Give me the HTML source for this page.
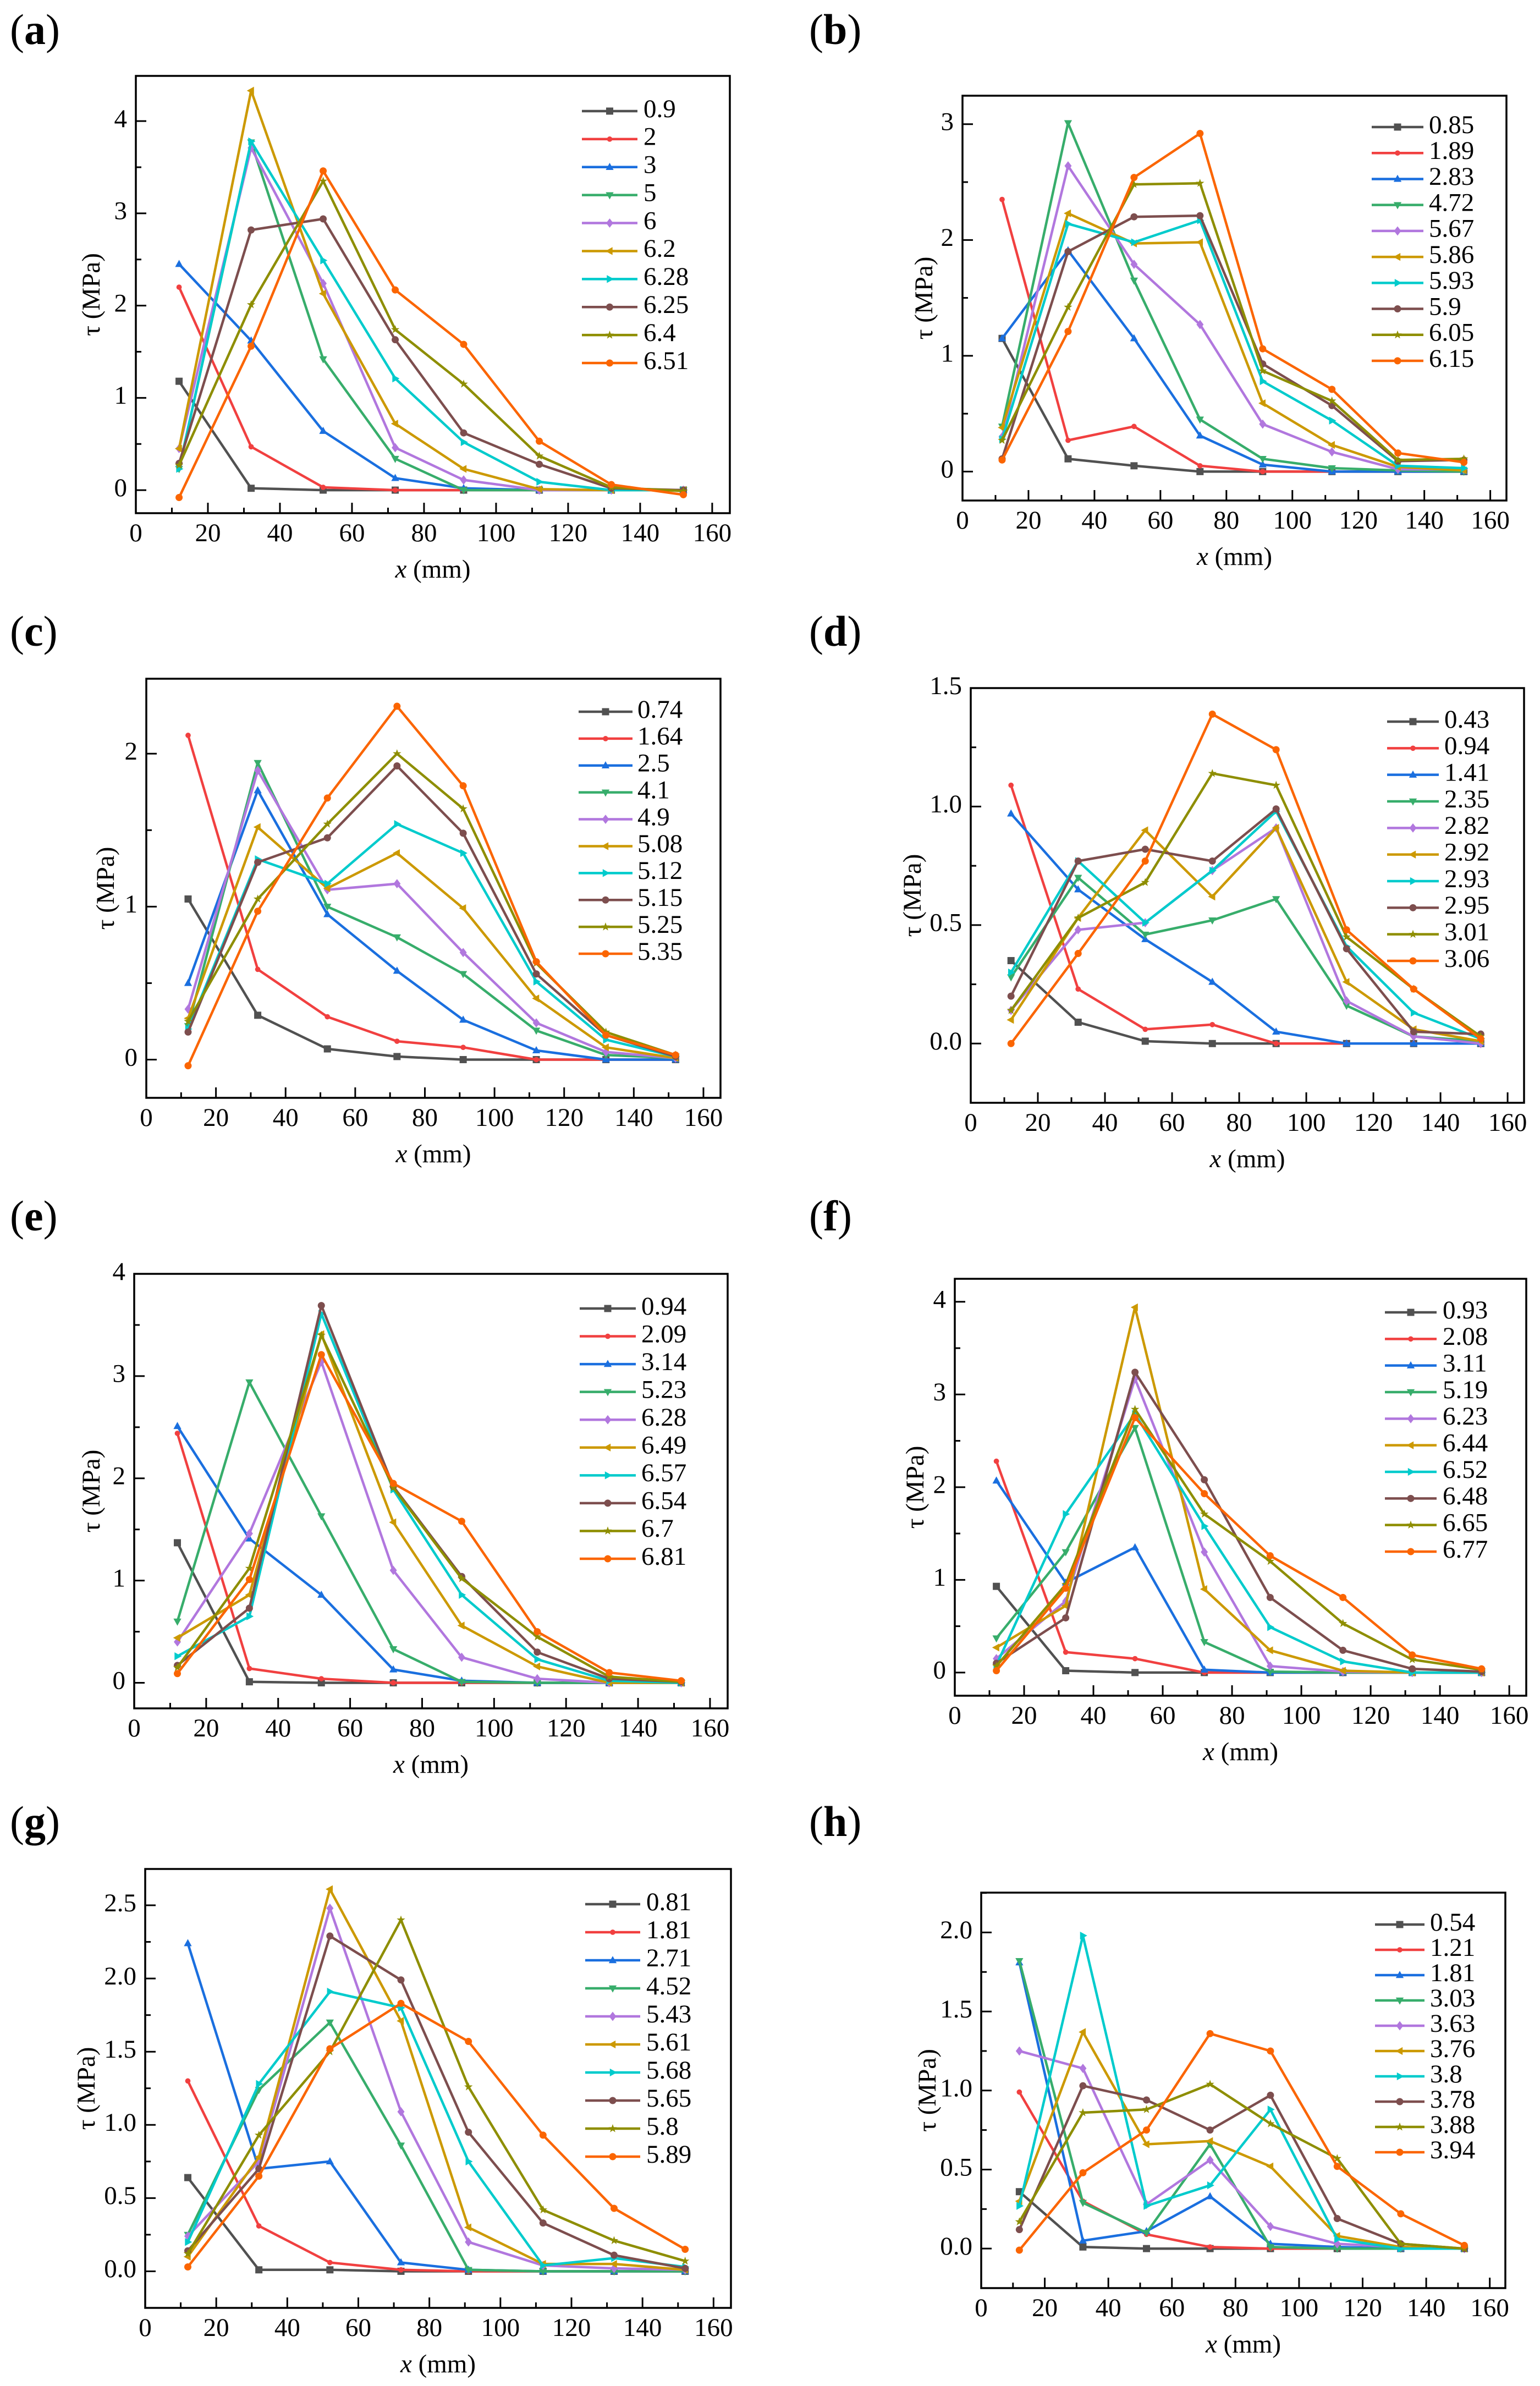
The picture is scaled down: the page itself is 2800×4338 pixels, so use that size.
<!DOCTYPE html>
<html><head><meta charset="utf-8">
<style>
html,body{margin:0;padding:0;background:#fff;}
svg{display:block;font-family:"Liberation Serif","DejaVu Serif",serif;}
</style></head>
<body>
<svg id="fig" xmlns="http://www.w3.org/2000/svg" width="2800" height="4338" viewBox="0 0 2800 4338"></svg>
<script>
const xPositions = [12, 32, 52, 72, 91, 112, 132, 152];
const xTickValues = [0, 20, 40, 60, 80, 100, 120, 140, 160];
const seriesColors = ["#515151","#F14040","#1A6FDF","#37AD6B","#B177DE","#CC9900","#00CBCC","#7D4E4E","#8E8E00","#FB6501"];
const markerKinds = ["square","dot","up","down","diamond","left","right","circle","star","hex"];

const aLabels = ["0.9","2","3","5","6","6.2","6.28","6.25","6.4","6.51"];
const aSeries = [
[1.18,0.02,0,0,0,0,0,0],
[2.20,0.47,0.03,0,0,0,0,0],
[2.45,1.62,0.64,0.13,0.02,0,0,0],
[0.23,3.77,1.42,0.34,0,0,0,0],
[0.45,3.71,2.24,0.46,0.11,0,0,0],
[0.45,4.33,2.13,0.72,0.23,0.01,0,0],
[0.23,3.78,2.49,1.21,0.52,0.09,0,0],
[0.29,2.82,2.94,1.63,0.62,0.28,0.02,0],
[0.27,2.01,3.35,1.74,1.15,0.37,0.03,-0.01],
[-0.08,1.56,3.46,2.17,1.58,0.53,0.06,-0.05]];
const aYTicks = [0,1,2,3,4];
const aYTickLabels = ["0","1","2","3","4"];

const bLabels = ["0.85","1.89","2.83","4.72","5.67","5.86","5.93","5.9","6.05","6.15"];
const bSeries = [
[1.15,0.11,0.05,0,0,0,0,0],
[2.35,0.27,0.39,0.05,0,0,0,0],
[1.15,1.91,1.15,0.31,0.06,0,0,0],
[0.39,3.01,1.65,0.45,0.11,0.03,0.01,0],
[0.30,2.64,1.79,1.27,0.41,0.17,0.02,0.02],
[0.38,2.23,1.97,1.98,0.59,0.23,0.04,0.01],
[0.28,2.14,1.98,2.17,0.78,0.44,0.05,0.03],
[0.11,1.90,2.20,2.21,0.93,0.57,0.09,0.10],
[0.27,1.42,2.48,2.49,0.87,0.61,0.10,0.11],
[0.10,1.21,2.54,2.92,1.06,0.71,0.16,0.08]];
const bYTicks = [0,1,2,3];
const bYTickLabels = ["0","1","2","3"];

const cLabels = ["0.74","1.64","2.5","4.1","4.9","5.08","5.12","5.15","5.25","5.35"];
const cSeries = [
[1.05,0.29,0.07,0.02,0,0,0,0],
[2.12,0.59,0.28,0.12,0.08,0,0,0],
[0.50,1.76,0.95,0.58,0.26,0.06,0,0],
[0.22,1.94,1.00,0.80,0.56,0.19,0.03,0.01],
[0.33,1.89,1.11,1.15,0.70,0.24,0.05,0.01],
[0.27,1.52,1.12,1.35,0.99,0.40,0.08,0.01],
[0.20,1.31,1.15,1.54,1.35,0.51,0.13,0.02],
[0.18,1.29,1.45,1.92,1.48,0.56,0.16,0.02],
[0.25,1.05,1.54,2.00,1.64,0.63,0.18,0.03],
[-0.04,0.97,1.71,2.31,1.79,0.64,0.16,0.03]];
const cYTicks = [0,1,2];
const cYTickLabels = ["0","1","2"];

const dLabels = ["0.43","0.94","1.41","2.35","2.82","2.92","2.93","2.95","3.01","3.06"];
const dSeries = [
[0.35,0.09,0.01,0,0,0,0,0],
[1.09,0.23,0.06,0.08,0,0,0,0],
[0.97,0.65,0.44,0.26,0.05,0,0,0],
[0.28,0.70,0.46,0.52,0.61,0.16,0.03,0.01],
[0.14,0.48,0.51,0.73,0.91,0.18,0.03,0],
[0.10,0.53,0.90,0.62,0.91,0.26,0.06,0.01],
[0.30,0.77,0.51,0.73,0.98,0.41,0.13,0.02],
[0.20,0.77,0.82,0.77,0.99,0.40,0.05,0.04],
[0.14,0.53,0.68,1.14,1.09,0.45,0.23,0.03],
[0.00,0.38,0.77,1.39,1.24,0.48,0.23,0.02]];
const dYTicks = [0,0.5,1.0,1.5];
const dYTickLabels = ["0.0","0.5","1.0","1.5"];

const eLabels = ["0.94","2.09","3.14","5.23","6.28","6.49","6.57","6.54","6.7","6.81"];
const eSeries = [
[1.37,0.01,0,0,0,0,0,0],
[2.44,0.14,0.04,0,0,0,0,0],
[2.51,1.41,0.86,0.13,0.02,0,0,0],
[0.60,2.94,1.63,0.33,0.01,0,0,0],
[0.40,1.46,3.14,1.10,0.25,0.04,0,0],
[0.44,0.86,3.41,1.57,0.56,0.16,0,0],
[0.26,0.65,3.61,1.89,0.86,0.23,0.02,0],
[0.17,0.73,3.69,1.92,1.04,0.30,0.04,0.01],
[0.15,1.12,3.40,1.91,1.02,0.45,0.06,0.01],
[0.09,1.01,3.21,1.95,1.58,0.50,0.10,0.02]];
const eYTicks = [0,1,2,3,4];
const eYTickLabels = ["0","1","2","3","4"];

const fLabels = ["0.93","2.08","3.11","5.19","6.23","6.44","6.52","6.48","6.65","6.77"];
const fSeries = [
[0.93,0.02,0,0,0,0,0,0],
[2.28,0.22,0.15,0,0,0,0,0],
[2.07,0.97,1.35,0.03,0,0,0,0],
[0.37,1.30,2.64,0.33,0.01,0,0,0],
[0.15,0.77,3.17,1.30,0.07,0.01,0,0],
[0.27,0.72,3.94,0.90,0.24,0.02,0,0],
[0.08,1.71,2.79,1.58,0.49,0.12,0,0],
[0.10,0.59,3.24,2.08,0.81,0.24,0.04,0.01],
[0.07,0.95,2.84,1.71,1.20,0.53,0.14,0.03],
[0.02,0.91,2.75,1.93,1.26,0.81,0.19,0.04]];
const fYTicks = [0,1,2,3,4];
const fYTickLabels = ["0","1","2","3","4"];

const gLabels = ["0.81","1.81","2.71","4.52","5.43","5.61","5.68","5.65","5.8","5.89"];
const gSeries = [
[0.64,0.01,0.01,0,0,0,0,0],
[1.30,0.31,0.06,0.01,0,0,0,0],
[2.24,0.70,0.75,0.06,0.01,0,0,0],
[0.25,1.24,1.70,0.86,0.01,0,0,0],
[0.24,0.75,2.48,1.09,0.20,0.04,0.02,0.01],
[0.10,0.78,2.61,1.71,0.30,0.05,0.05,0.01],
[0.20,1.28,1.91,1.80,0.75,0.04,0.09,0.03],
[0.14,0.70,2.29,1.99,0.95,0.33,0.11,0.02],
[0.12,0.93,1.50,2.40,1.26,0.42,0.21,0.07],
[0.03,0.65,1.52,1.83,1.57,0.93,0.43,0.15]];
const gYTicks = [0,0.5,1.0,1.5,2.0,2.5];
const gYTickLabels = ["0.0","0.5","1.0","1.5","2.0","2.5"];

const hLabels = ["0.54","1.21","1.81","3.03","3.63","3.76","3.8","3.78","3.88","3.94"];
const hSeries = [
[0.36,0.01,0,0,0,0,0,0],
[0.99,0.30,0.09,0.01,0,0,0,0],
[1.81,0.05,0.11,0.33,0.03,0.01,0,0],
[1.82,0.29,0.10,0.66,0.01,0,0,0],
[1.25,1.14,0.28,0.56,0.14,0.03,0.01,0],
[0.30,1.37,0.66,0.68,0.52,0.08,0.01,0],
[0.27,1.98,0.27,0.40,0.88,0.06,0,0],
[0.12,1.03,0.94,0.75,0.97,0.19,0.03,0],
[0.17,0.86,0.88,1.04,0.79,0.57,0.03,0],
[-0.01,0.48,0.75,1.36,1.25,0.52,0.22,0.02]];
const hYTicks = [0,0.5,1.0,1.5,2.0];
const hYTickLabels = ["0.0","0.5","1.0","1.5","2.0"];

const panels = [
 {id:"a",labels:aLabels,series:aSeries,yt:aYTicks,ytl:aYTickLabels,L:247,R:1327,T:138,B:933,yTop:4.49,minor:0.5,lgY0:202,lgY1:660,lgX0:1058,lgX1:1159,lgT:1170,tOff:77,pl:[18,62]},
 {id:"b",labels:bLabels,series:bSeries,yt:bYTicks,ytl:bYTickLabels,L:1750,R:2739,T:174,B:910,yTop:3.246,minor:0.5,lgY0:231,lgY1:656,lgX0:2494,lgX1:2588,lgT:2598,tOff:66,pl:[1471,62]},
 {id:"c",labels:cLabels,series:cSeries,yt:cYTicks,ytl:cYTickLabels,L:266,R:1310,T:1234,B:1996,yTop:2.49,minor:0.5,lgY0:1294,lgY1:1734,lgX0:1052,lgX1:1150,lgT:1159,tOff:70,pl:[18,1156]},
 {id:"d",labels:dLabels,series:dSeries,yt:dYTicks,ytl:dYTickLabels,L:1765,R:2771,T:1251,B:2005,yTop:1.5,minor:0.25,lgY0:1312,lgY1:1747,lgX0:2522,lgX1:2616,lgT:2626,tOff:102,pl:[1471,1156]},
 {id:"e",labels:eLabels,series:eSeries,yt:eYTicks,ytl:eYTickLabels,L:244,R:1323,T:2316,B:3106,yTop:4.0,minor:0.5,lgY0:2379,lgY1:2834,lgX0:1054,lgX1:1156,lgT:1166,tOff:74,pl:[18,2219]},
 {id:"f",labels:fLabels,series:fSeries,yt:fYTicks,ytl:fYTickLabels,L:1736,R:2775,T:2325,B:3083,yTop:4.248,minor:0.5,lgY0:2386,lgY1:2821,lgX0:2518,lgX1:2612,lgT:2623,tOff:68,pl:[1471,2219]},
 {id:"g",labels:gLabels,series:gSeries,yt:gYTicks,ytl:gYTickLabels,L:264,R:1329,T:3398,B:4196,yTop:2.748,minor:0.25,lgY0:3462,lgY1:3921,lgX0:1064,lgX1:1164,lgT:1175,tOff:103,pl:[18,3320]},
 {id:"h",labels:hLabels,series:hSeries,yt:hYTicks,ytl:hYTickLabels,L:1784,R:2737,T:3441,B:4160,yTop:2.252,minor:0.25,lgY0:3499,lgY1:3913,lgX0:2500,lgX1:2590,lgT:2600,tOff:94,pl:[1471,3320]}
];
const X_MAX = 164.9, Y_BOT = -0.25;
const NS = "http://www.w3.org/2000/svg";
const svg = document.getElementById("fig");
function mk(tag, attrs, parent){const e=document.createElementNS(NS,tag);for(const k in attrs)e.setAttribute(k,attrs[k]);parent.appendChild(e);return e;}

function marker(g, kind, cx, cy, color){
  const s=6.5; let e;
  if(kind==="square") e=mk("rect",{x:cx-s,y:cy-s,width:2*s,height:2*s,fill:color},g);
  else if(kind==="dot") e=mk("circle",{cx:cx,cy:cy,r:s*0.75,fill:color},g);
  else if(kind==="circle"||kind==="hex") e=mk("circle",{cx:cx,cy:cy,r:s,fill:color},g);
  else if(kind==="diamond") e=mk("polygon",{points:`${cx},${cy-s*1.3} ${cx+s},${cy} ${cx},${cy+s*1.3} ${cx-s},${cy}`,fill:color},g);
  else if(kind==="up") e=mk("polygon",{points:`${cx},${cy-s*1.2} ${cx+s*1.1},${cy+s*0.8} ${cx-s*1.1},${cy+s*0.8}`,fill:color},g);
  else if(kind==="down") e=mk("polygon",{points:`${cx},${cy+s*1.2} ${cx+s*1.1},${cy-s*0.8} ${cx-s*1.1},${cy-s*0.8}`,fill:color},g);
  else if(kind==="left") e=mk("polygon",{points:`${cx-s*1.2},${cy} ${cx+s*0.8},${cy-s*1.1} ${cx+s*0.8},${cy+s*1.1}`,fill:color},g);
  else if(kind==="right") e=mk("polygon",{points:`${cx+s*1.2},${cy} ${cx-s*0.8},${cy-s*1.1} ${cx-s*0.8},${cy+s*1.1}`,fill:color},g);
  else if(kind==="star"){let p=[];for(let i=0;i<10;i++){const r=i%2?s*0.5:s*1.25;const a=-Math.PI/2+i*Math.PI/5;p.push((cx+r*Math.cos(a)).toFixed(1)+","+(cy+r*Math.sin(a)).toFixed(1));}e=mk("polygon",{points:p.join(" "),fill:color},g);}
  
  
}

panels.forEach(p=>{
  const g=mk("g",{},svg);
  
  
  const xs=v=>p.L+(v/X_MAX)*(p.R-p.L);
  const ys=v=>p.B-(v-Y_BOT)/(p.yTop-Y_BOT)*(p.B-p.T);
  const pl=mk("text",{x:p.pl[0],y:p.pl[1],"font-size":78,"dominant-baseline":"middle"},g);
  pl.innerHTML='(<tspan font-weight="bold">'+p.id+'</tspan>)';
  
  
  // series lines
  p.series.forEach((vals,i)=>{
    const sg=mk("g",{},g);
    
    
    const pts=vals.map((v,j)=>xs(xPositions[j]).toFixed(1)+","+ys(v).toFixed(1)).join(" ");
    const ln=mk("polyline",{points:pts,fill:"none",stroke:seriesColors[i],"stroke-width":4.5,"stroke-linejoin":"round"},sg);
    
    
    vals.forEach((v,j)=>marker(sg,markerKinds[i],xs(xPositions[j]),ys(v),seriesColors[i]));
  });
  // frame
  const fr=mk("rect",{x:p.L,y:p.T,width:p.R-p.L,height:p.B-p.T,fill:"none",stroke:"#000","stroke-width":3.5},g);
  
  
  // x ticks
  const xa=mk("g",{},g);
  
  
  for(let v=10;v<=160;v+=10){
    const major=v%20===0;
    mk("line",{x1:xs(v),x2:xs(v),y1:p.B,y2:p.B-(major?19:10),stroke:"#000","stroke-width":3},xa);
  }
  xTickValues.forEach(v=>{
    const t=mk("text",{x:xs(v),y:p.B+40,"font-size":47,"text-anchor":"middle","dominant-baseline":"middle"},xa);
    t.textContent=String(v);
    
    
  });
  const xt=mk("text",{x:(p.L+p.R)/2,y:p.B+106,"font-size":47,"text-anchor":"middle","dominant-baseline":"middle"},xa);
  xt.innerHTML='<tspan font-style="italic">x</tspan> (mm)';
  
  
  // y ticks
  const ya=mk("g",{},g);
  
  
  const yMax=p.yt[p.yt.length-1];
  for(let v=0;v<=p.yTop+1e-9;v+=p.minor){
    const major=p.yt.some(t=>Math.abs(t-v)<1e-6);
    mk("line",{x1:p.L,x2:p.L+(major?19:10),y1:ys(v),y2:ys(v),stroke:"#000","stroke-width":3},ya);
  }
  p.yt.forEach((v,i)=>{
    const t=mk("text",{x:p.L-16,y:ys(v),"font-size":47,"text-anchor":"end","dominant-baseline":"middle"},ya);
    t.textContent=p.ytl[i];
    
    
  });
  const cy=(p.T+p.B)/2, cx=p.L-p.tOff;
  const yt=mk("text",{x:cx,y:cy,"font-size":47,"text-anchor":"middle","dominant-baseline":"middle",transform:`rotate(-90 ${cx} ${cy})`},ya);
  yt.textContent="τ (MPa)";
  
  
  // legend
  const lg=mk("g",{},g);
  
  
  p.labels.forEach((lab,i)=>{
    const y=p.lgY0+(p.lgY1-p.lgY0)*i/9;
    const eg=mk("g",{},lg);
    
    
    mk("line",{x1:p.lgX0,x2:p.lgX1,y1:y,y2:y,stroke:seriesColors[i],"stroke-width":4.5},eg);
    marker(eg,markerKinds[i],(p.lgX0+p.lgX1)/2,y,seriesColors[i]);
    const t=mk("text",{x:p.lgT,y:y,"font-size":47,"dominant-baseline":"middle"},eg);
    t.textContent=lab;
  });
});
</script>
</body></html>
